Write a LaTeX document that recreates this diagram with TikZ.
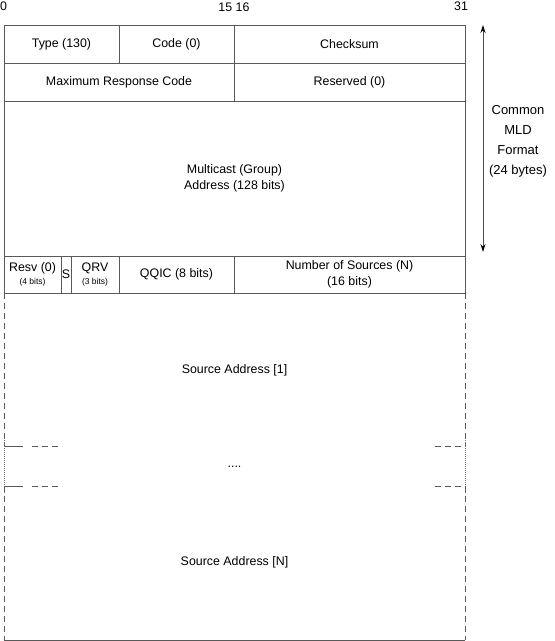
\documentclass[tikz,border=0pt]{standalone}
\usepackage{fontspec}
\setmainfont{Liberation Sans}
\usetikzlibrary{arrows.meta}
\begin{document}
\begin{tikzpicture}[x=1pt,y=-1pt,
  line/.style={draw=black!65,line width=0.8pt},
  field/.style={line,rectangle,inner sep=0pt,outer sep=0pt,align=center,font=\fontsize{12.4}{15.5}\selectfont},
  txt/.style={inner sep=0pt,align=center,font=\fontsize{12.4}{15.5}\selectfont},
  dsh/.style={draw=black!65,line width=0.8pt,dash pattern=on 6pt off 4pt},
  dot/.style={draw=black!55,line width=0.8pt,dash pattern=on 1pt off 1pt}]
\useasboundingbox (0,0) rectangle (555,641);
% bit labels
\node[txt,anchor=west] (b0) at (0,6) {0};
\node[txt] (b15) at (234,7) {15 16};
\node[txt] (b31) at (461,6) {31};
% row 1
\node[field,minimum width=115,minimum height=38] (type) at (61.5,44) {Type (130)};
\node[field,minimum width=115,minimum height=38] (code) at (176.5,44) {Code (0)};
\node[field,minimum width=231,minimum height=38] (cks) at (349.5,44) {Checksum};
% row 2
\node[field,minimum width=230,minimum height=38] (mrc) at (119,82) {Maximum Response Code};
\node[field,minimum width=231,minimum height=38] (res) at (349.5,82) {Reserved (0)};
% row 3
\node[field,minimum width=461,minimum height=155] (mc) at (234.5,178.5) {Multicast (Group)\\Address (128 bits)};
% row 4
\node[field,minimum width=57,minimum height=37] (resv) at (32.5,274.5) {Resv (0)\\[-3pt]{\fontsize{8.5}{10}\selectfont (4 bits)}};
\node[field,minimum width=10,minimum height=37] (s) at (66,274.5) {S};
\node[field,minimum width=48,minimum height=37] (qrv) at (95,274.5) {QRV\\[-3pt]{\fontsize{8.5}{10}\selectfont (3 bits)}};
\node[field,minimum width=115,minimum height=37] (qqic) at (176.5,274.5) {QQIC (8 bits)};
\node[field,minimum width=231,minimum height=37] (nos) at (349.5,274.5) {Number of Sources (N)\\(16 bits)};
% source addresses
\node[txt] (sa1) at (234.5,370) {Source Address [1]};
\node[txt] (dots) at (234.5,467) {....};
\node[txt] (saN) at (234.5,562) {Source Address [N]};
\coordinate (tl1) at (4,293); \coordinate (tr1) at (465,293);
\coordinate (bl1) at (4,446); \coordinate (br1) at (465,446);
\coordinate (tl2) at (4,486); \coordinate (tr2) at (465,486);
\coordinate (bl2) at (4,640); \coordinate (br2) at (465,640);
\draw[dsh] (tl1) -- (bl1);
\draw[dsh] (tr1) -- (br1);
\draw[line] (bl1) -- ++(19,0);
\draw[dsh] ([xshift=28]bl1) -- ++(30,0);
\draw[dsh] ([xshift=-30]br1) -- (br1);
\draw[dot] ([yshift=8]bl1) -- ([yshift=-8]tl2);
\draw[dot] ([yshift=8]br1) -- ([yshift=-8]tr2);
\draw[line] (tl2) -- ++(19,0);
\draw[dsh] ([xshift=28]tl2) -- ++(30,0);
\draw[dsh] ([xshift=-30]tr2) -- (tr2);
\draw[dsh] (tl2) -- (bl2);
\draw[dsh] (tr2) -- (br2);
\draw[line] (bl2) -- (br2);
% arrow
\coordinate (at) at (483,25); \coordinate (ab) at (483,252);
\draw[black!70,line width=0.8pt,{Stealth[length=8pt,width=5pt,black]}-{Stealth[length=8pt,width=5pt,black]}] (at) -- (ab);
\node[txt,font=\fontsize{13}{20}\selectfont] (cmf) at (518,141) {Common\\MLD\\Format\\(24 bytes)};
\end{tikzpicture}
\end{document}
